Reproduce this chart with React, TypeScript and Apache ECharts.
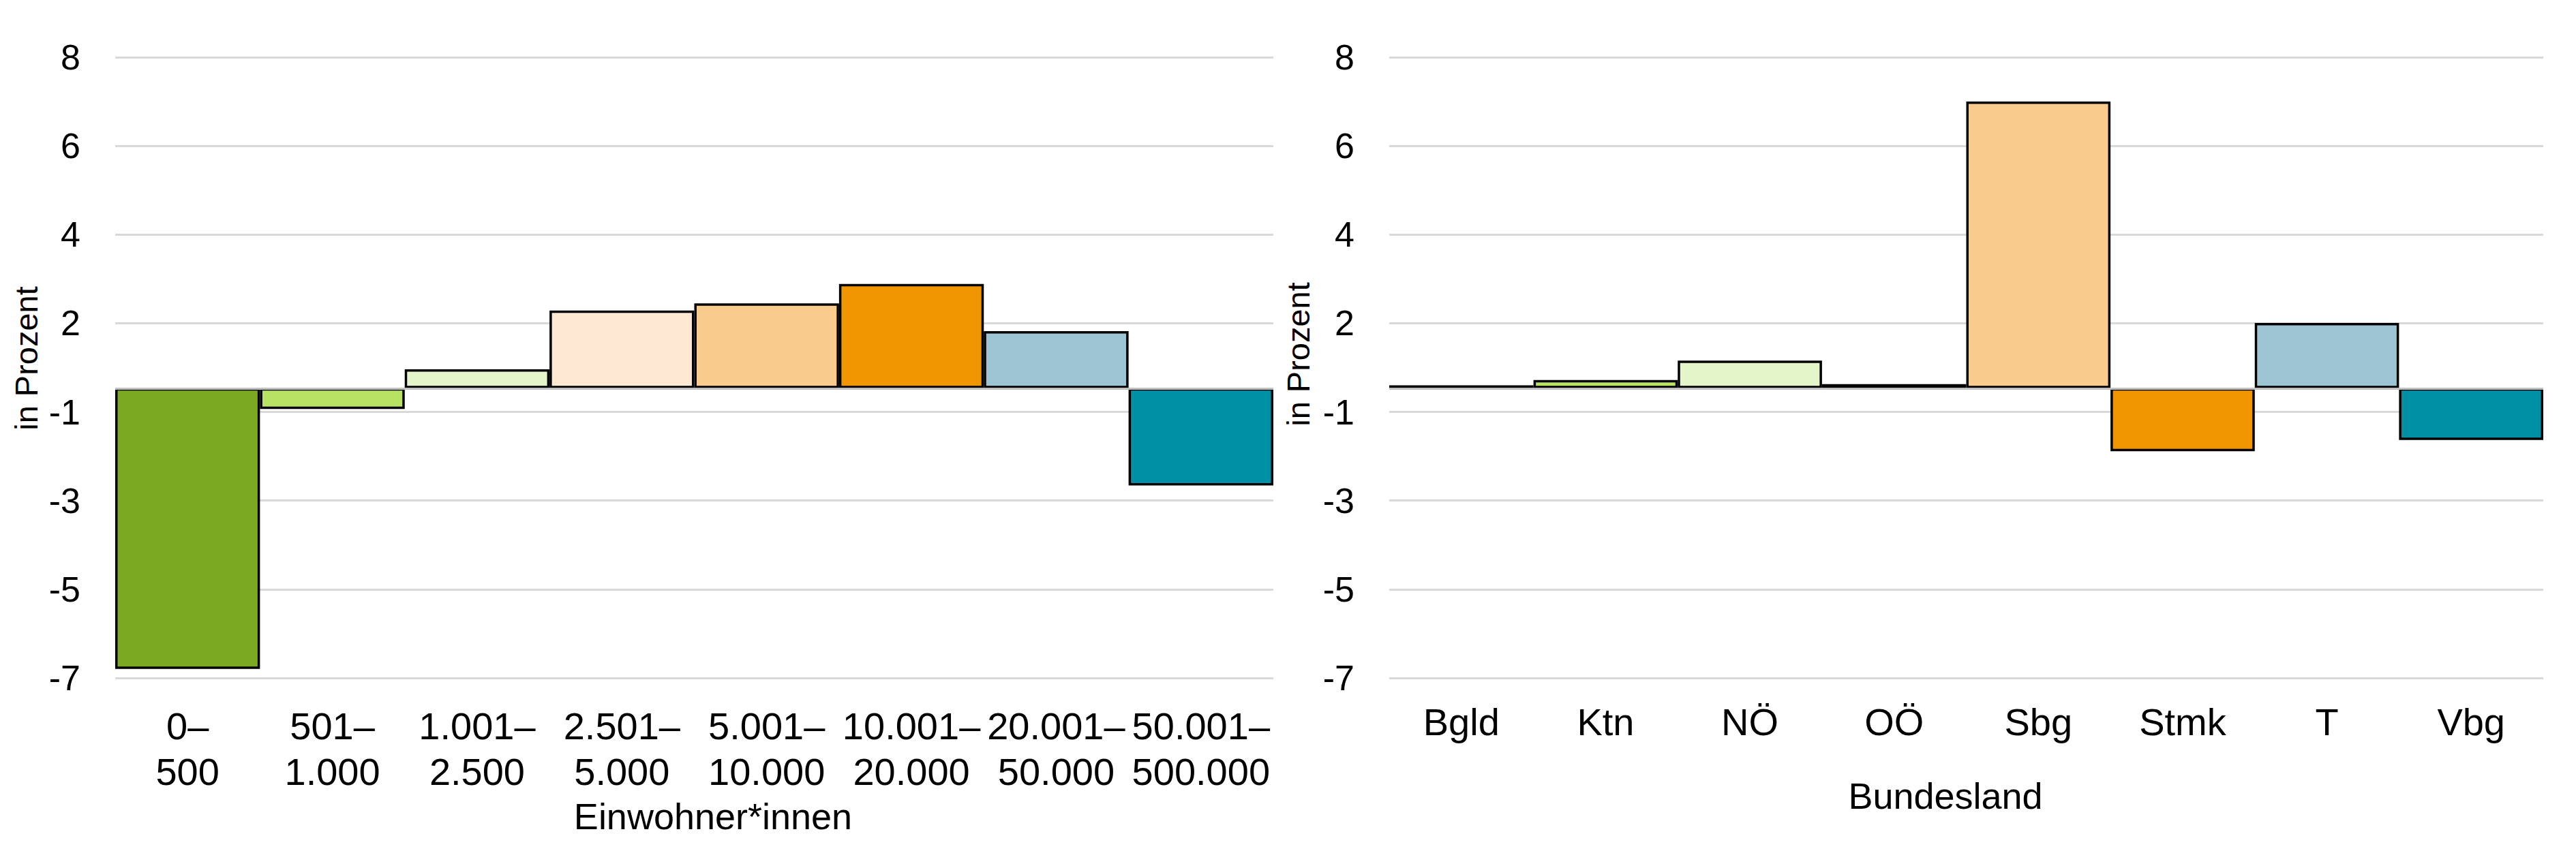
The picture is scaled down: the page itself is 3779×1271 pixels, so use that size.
import React, { useEffect, useRef } from "react";
import * as echarts from "echarts";

const leftCategories = [
  "0–\n500",
  "501–\n1.000",
  "1.001–\n2.500",
  "2.501–\n5.000",
  "5.001–\n10.000",
  "10.001–\n20.000",
  "20.001–\n50.000",
  "50.001–\n500.000",
];
const leftValues = [-6.78, -0.5, 0.46, 1.88, 2.05, 2.52, 1.38, -2.35];

const rightCategories = ["Bgld", "Ktn", "NÖ", "OÖ", "Sbg", "Stmk", "T", "Vbg"];
const rightValues = [0.07, 0.2, 0.67, 0.1, 6.93, -1.52, 1.58, -1.25];

const barColors = ["#7BA922", "#B8E264", "#E5F5CA", "#FDE9D3", "#F9CB8D", "#F09500", "#9CC4D2", "#0090A6"];

const yTickLabels = ["-7", "-5", "-3", "-1", "2", "4", "6", "8"];
const valueMin = -7;
const valueMax = 8;

const leftXTitle = "Einwohner*innen";
const rightXTitle = "Bundesland";
const yTitle = "in Prozent";

const FONT = "'Liberation Sans', Arial, sans-serif";

export default function App() {
  const ref = useRef<HTMLDivElement>(null);

  useEffect(() => {
    if (!ref.current) return;
    const chart = echarts.init(ref.current, undefined, { renderer: "svg" });

    const labelAxis = (gridIndex: number) => ({
      type: "value",
      gridIndex,
      min: 0,
      max: yTickLabels.length - 1,
      interval: 1,
      axisLine: { show: false },
      axisTick: { show: false },
      axisLabel: {
        formatter: (v: number) => yTickLabels[Math.round(v)] ?? "",
        fontSize: 52,
        color: "#000",
        fontFamily: FONT,
        margin: 51,
      },
      splitLine: { show: true, lineStyle: { color: "#D9D9D9", width: 3 } },
    });
    const dataAxis = (gridIndex: number) => ({
      type: "value",
      gridIndex,
      min: valueMin,
      max: valueMax,
      show: false,
      splitLine: { show: false },
    });
    const catAxis = (gridIndex: number, data: string[], margin: number) => ({
      type: "category",
      gridIndex,
      data,
      axisLine: { show: false },
      axisTick: { show: false },
      axisLabel: {
        interval: 0,
        fontSize: 56,
        lineHeight: 67,
        color: "#000",
        fontFamily: FONT,
        margin,
      },
    });
    const barSeries = (idx: number, values: number[]) => ({
      type: "bar",
      xAxisIndex: idx,
      yAxisIndex: idx * 2 + 1,
      barWidth: "100%",
      barCategoryGap: "0%",
      data: values.map((v, i) => ({
        value: v,
        itemStyle: { color: barColors[i], borderColor: "#000", borderWidth: 3.5 },
      })),
      markLine: {
        silent: true,
        symbol: "none",
        label: { show: false },
        lineStyle: { color: "#BFBFBF", width: 3, type: "solid" },
        data: [{ yAxis: 0 }],
      },
    });

    const titleStyle = (text: string, size: number) => ({
      text,
      fontSize: size,
      fontFamily: FONT,
      fill: "#000",
      align: "center",
      verticalAlign: "middle",
    });

    chart.setOption({
      animation: false,
      backgroundColor: "#fff",
      grid: [
        { left: 169, right: 3779 - 1868, top: 84, bottom: 1271 - 995, containLabel: false },
        { left: 2038, right: 3779 - 3731, top: 84, bottom: 1271 - 995, containLabel: false },
      ],
      xAxis: [catAxis(0, leftCategories, 37), catAxis(1, rightCategories, 31)],
      yAxis: [labelAxis(0), dataAxis(0), labelAxis(1), dataAxis(1)],
      series: [barSeries(0, leftValues), barSeries(1, rightValues)],
      graphic: [
        { type: "text", x: 38, y: 526, rotation: Math.PI / 2, style: titleStyle(yTitle, 47) },
        { type: "text", x: 1904, y: 520, rotation: Math.PI / 2, style: titleStyle(yTitle, 47) },
        { type: "text", x: 1046, y: 1198, style: titleStyle(leftXTitle, 54) },
        { type: "text", x: 2854, y: 1168, style: titleStyle(rightXTitle, 54) },
      ],
    });

    return () => chart.dispose();
  }, []);

  return (
    <div
      ref={ref}
      style={{ position: "absolute", left: 0, top: 0, width: 3779, height: 1271, background: "#fff" }}
    />
  );
}
